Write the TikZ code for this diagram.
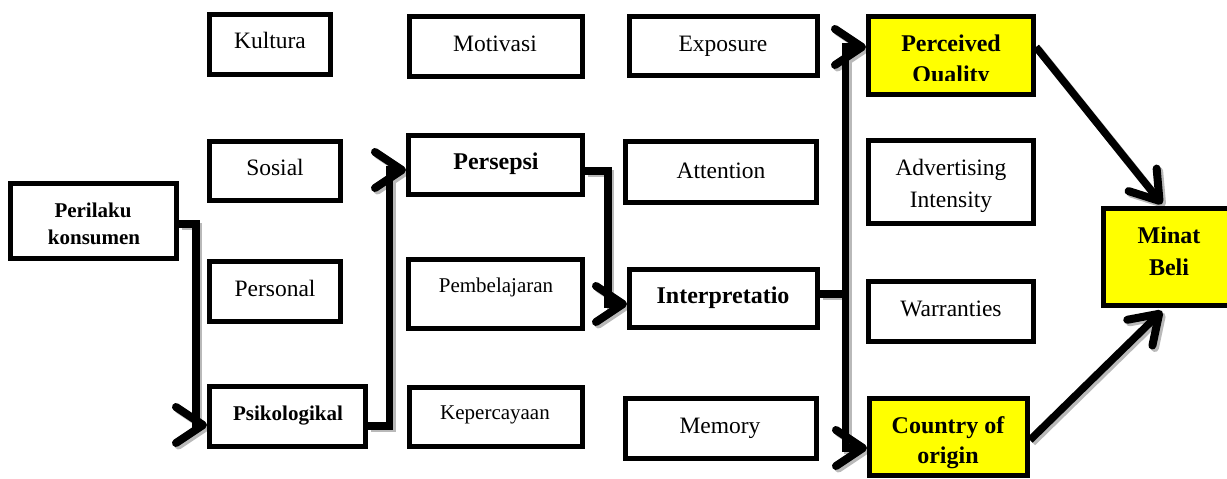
\documentclass[tikz,border=0pt]{standalone}
\usepackage{fontspec}
\setmainfont{Liberation Serif}
\usetikzlibrary{arrows.meta,calc,fit,backgrounds}
\definecolor{ylw}{RGB}{255,255,0}
\tikzset{
  box/.style={draw=black, line width=5pt, fill=white, inner sep=0pt},
  ybox/.style={box, fill=ylw},
  t/.style={anchor=base, inner sep=0pt, font=\fontsize{23.5}{28}\selectfont},
  ts/.style={t, font=\fontsize{21}{25}\selectfont},
  tb/.style={t, font=\fontsize{24}{28}\selectfont\bfseries},
  tbs/.style={t, font=\fontsize{21}{25}\selectfont\bfseries},
  conn/.style={line width=7.5pt, draw=black},
  connsh/.style={line width=7.5pt, draw=gray!55, transform canvas={shift={(2.5pt,-2.5pt)}}},
  arr/.style={-{Straight Barb[round, length=27pt, width=36pt, line width=8pt]}},
}
\newcommand\allconns[1]{%
  \draw[#1, arr] ($(perilaku.east)+(0,3)$) -- ++(17,0) |- ($(psik.west)+(0,8.5)$);
  \draw[#1, arr] ($(psik.east)+(0,9.5)$) -- ++(21.5,0) |- ($(persepsi.west)+(0,5)$);
  \draw[#1, arr] ($(persepsi.east)+(0,6)$) -- ++(23,0) |- ($(interp.west)+(0,5.5)$);
  \draw[#1] ($(interp.east)+(0,-4.5)$) -- (jn);
  \draw[#1, arr] (jn) |- ($(pq.west)+(0,-8.5)$);
  \draw[#1, arr] (jn) |- ($(country.west)+(0,11)$);
  \draw[#1, arr] ($(pq.east)+(0,-8.5)$) -- ($(minat.north)+(-6,-2)$);
  \draw[#1, arr] ($(country.east)+(0,3)$) -- ($(minat.south)+(-6,3)$);
}
\begin{document}
\begin{tikzpicture}[x=1pt,y=-1pt]
\useasboundingbox (0,0) rectangle (1227,479);
\clip (0,0) rectangle (1227,479);
% boxes
\node[box,  fit={(209.5,14.5) (330.5,74.5)}]   (kultura) {};
\node[box,  fit={(409.5,16.5) (582.5,76.5)}]   (motivasi) {};
\node[box,  fit={(629.5,16.5) (817.5,75.5)}]   (exposure) {};
\node[ybox, fit={(868.5,16.5) (1033.5,94.5)}]  (pq) {};
\node[box,  fit={(10.5,183.5) (176.5,258.5)}]  (perilaku) {};
\node[box,  fit={(209.5,141.5) (340.5,200.5)}] (sosial) {};
\node[box,  fit={(209.5,261.5) (340.5,321.5)}] (personal) {};
\node[box,  fit={(209.5,386.5) (365.5,446.5)}] (psik) {};
\node[box,  fit={(408.5,135.5) (582.5,194.5)}] (persepsi) {};
\node[box,  fit={(408.5,259.5) (582.5,328.5)}] (pembel) {};
\node[box,  fit={(409.5,387.5) (582.5,446.5)}] (keperc) {};
\node[box,  fit={(625.5,141.5) (816.5,202.5)}] (attention) {};
\node[box,  fit={(629.5,269.5) (817.5,327.5)}] (interp) {};
\node[box,  fit={(625.5,398.5) (816.5,458.5)}] (memory) {};
\node[box,  fit={(868.5,140.5) (1033.5,223.5)}] (advert) {};
\node[box,  fit={(868.5,281.5) (1033.5,341.5)}] (warr) {};
\node[ybox, fit={(869.5,398.5) (1027.5,475.5)}] (country) {};
\node[ybox, fit={(1103.5,208.5) (1232.5,305.5)}] (minat) {};
\coordinate (jn) at ($(interp.east)+(25.5,-4.5)$);
% connectors (behind boxes)
\begin{scope}[on background layer]
  \allconns{connsh}
  \allconns{conn}
\end{scope}
% texts
\node[t]   (tKultura)   at (270,48)   {Kultura};
\node[t]   (tMotivasi)  at (495,51)   {Motivasi};
\node[t]   (tExposure)  at (723,51)   {Exposure};
\node[tb]  (tPerceived) at (951,51)   {Perceived};
\begin{scope}
  \clip (860,0) rectangle (1040,80.5);
  \node[tb] (tQuality) at (951,82) {Quality};
\end{scope}
\node[tbs] (tPerilaku)  at (93,217)   {Perilaku};
\node[tbs] (tKonsumen)  at (94,244)   {konsumen};
\node[t]   (tSosial)    at (275,175)  {Sosial};
\node[t]   (tPersonal)  at (275,296)  {Personal};
\node[tbs] (tPsik)      at (288,420)  {Psikologikal};
\node[tb]  (tPersepsi)  at (496,169)  {Persepsi};
\node[ts]  (tPembel)    at (496,292)  {Pembelajaran};
\node[ts]  (tKeperc)    at (495,419)  {Kepercayaan};
\node[t]   (tAttention) at (721,178)  {Attention};
\node[tb]  (tInterp)    at (723,303)  {Interpretatio};
\node[t]   (tMemory)    at (720,433)  {Memory};
\node[t]   (tAdv)       at (951,175)  {Advertising};
\node[t]   (tInt)       at (951,207)  {Intensity};
\node[t]   (tWarr)      at (951,316)  {Warranties};
\node[tb]  (tMinat)     at (1169,243) {Minat};
\node[tb]  (tBeli)      at (1169,275) {Beli};
\node[tb]  (tCountry)   at (948,433)  {Country of};
\node[tb]  (tOrigin)    at (948,463)  {origin};
\end{tikzpicture}
\end{document}
